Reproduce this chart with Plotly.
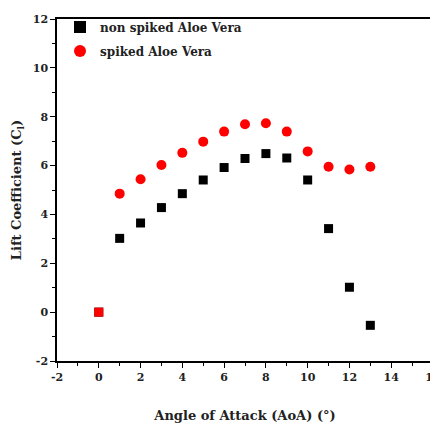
import plotly.graph_objects as go

aoa = [0, 1, 2, 3, 4, 5, 6, 7, 8, 9, 10, 11, 12, 13]
non_spiked = [0.0, 3.02, 3.65, 4.28, 4.85, 5.41, 5.92, 6.29, 6.49, 6.31, 5.41, 3.42, 1.02, -0.54]
spiked = [0.0, 4.85, 5.44, 6.02, 6.52, 6.98, 7.39, 7.69, 7.73, 7.39, 6.58, 5.95, 5.84, 5.95]
x_ticks = [-2, 0, 2, 4, 6, 8, 10, 12, 14, 16]
x_labels = ["-2", "0", "2", "4", "6", "8", "10", "12", "14", "16"]
y_ticks = [-2, 0, 2, 4, 6, 8, 10, 12]
y_labels = ["-2", "0", "2", "4", "6", "8", "10", "12"]

FONT = "DejaVu Serif"

fig = go.Figure()
fig.add_trace(go.Scatter(
    x=aoa, y=non_spiked, mode="markers", name="non spiked Aloe Vera",
    legendgroup="a",
    marker=dict(symbol="square", size=9, color="black"),
))
fig.add_trace(go.Scatter(
    x=aoa[1:], y=spiked[1:], mode="markers", name="spiked Aloe Vera",
    legendgroup="b",
    marker=dict(symbol="circle", size=10, color="red"),
))
fig.add_trace(go.Scatter(
    x=aoa[:1], y=spiked[:1], mode="markers", showlegend=False,
    legendgroup="c",
    marker=dict(symbol="square", size=9, color="red"),
))

axis_common = dict(
    showgrid=False, zeroline=False, showline=True, linecolor="black", linewidth=1.5,
    mirror=True, ticks="outside", ticklen=5, tickwidth=1.2, tickcolor="black",
    automargin=False, ticklabeloverflow="allow",
    tickfont=dict(family=FONT, size=11, color="#222", weight="bold"),
)

fig.update_xaxes(
    range=[-2, 16], tickvals=x_ticks, ticktext=x_labels,
    minor=dict(ticks="outside", ticklen=3, dtick=1, tick0=-2, tickcolor="black"),
    title=dict(text="Angle of Attack (AoA) (°)", standoff=28,
               font=dict(family=FONT, size=13, color="#222", weight="bold")),
    **axis_common,
)
fig.update_yaxes(
    range=[-2, 12], tickvals=y_ticks, ticktext=y_labels,
    minor=dict(ticks="outside", ticklen=3, dtick=1, tick0=-2, tickcolor="black"),
    title=dict(text="Lift Coefficient (C<sub>l</sub>)", standoff=8,
               font=dict(family=FONT, size=13, color="#222", weight="bold")),
    **axis_common,
)

# page body adds an 8px margin, so the figure is 430x420 to fill the 438x428 window
fig.update_layout(
    width=430, height=420,
    margin=dict(l=49, r=5, t=5, b=67),
    plot_bgcolor="white", paper_bgcolor="white",
    showlegend=True,
    legend=dict(x=0.008, y=1.019, xanchor="left", yanchor="top",
                bgcolor="rgba(0,0,0,0)",
                font=dict(family=FONT, size=12, color="#222", weight="bold"),
                itemsizing="constant", tracegroupgap=5),
)

fig.write_html("out.html")
